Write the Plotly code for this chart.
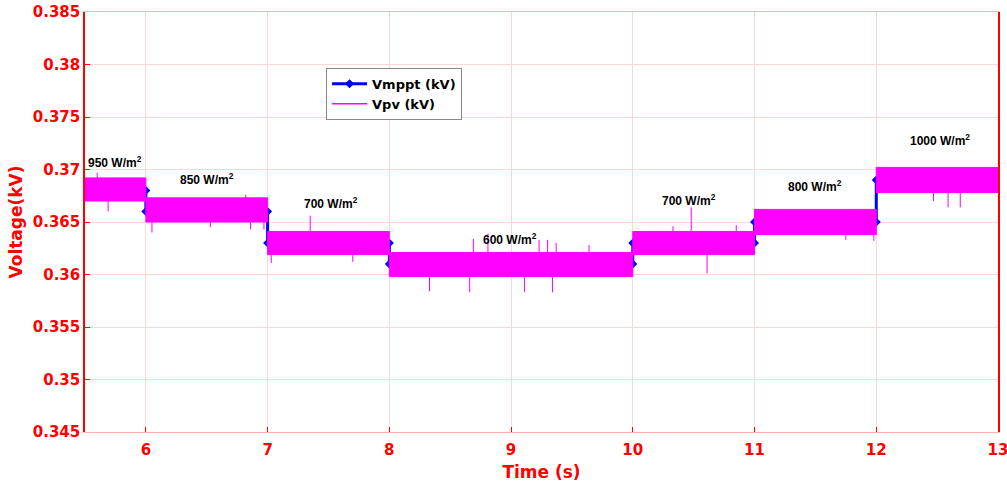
import plotly.graph_objects as go

# ---- data ----
seg_start = [5.5, 6, 7, 8, 10, 11, 12]
seg_end = [6, 7, 8, 10, 11, 12, 13]
vmppt = [0.368, 0.366, 0.363, 0.361, 0.363, 0.365, 0.369]
vpv_upper = [0.3692, 0.3673, 0.3641, 0.3621, 0.3641, 0.3662, 0.3702]
vpv_lower = [0.3670, 0.3650, 0.3619, 0.3598, 0.3619, 0.3638, 0.3678]

spike_t = [5.60, 5.69, 6.05, 6.53, 6.82, 6.86, 6.97, 7.03, 7.35, 7.70,
           8.33, 8.66, 8.69, 8.81, 9.11, 9.23, 9.30, 9.34, 9.37, 9.64,
           10.33, 10.48, 10.61, 10.85, 11.75, 11.98, 12.47, 12.59, 12.69]
spike_v = [0.3697, 0.3660, 0.3640, 0.3645, 0.3676, 0.3643, 0.3643, 0.3611, 0.3656, 0.3612,
           0.3584, 0.3583, 0.3634, 0.3639, 0.3583, 0.3633, 0.3633, 0.3583, 0.3630, 0.3628,
           0.3646, 0.3664, 0.3601, 0.3647, 0.3633, 0.3632, 0.3670, 0.3664, 0.3664]

labels = ["950 W/m<sup>2</sup>", "850 W/m<sup>2</sup>", "700 W/m<sup>2</sup>", "600 W/m<sup>2</sup>",
          "700 W/m<sup>2</sup>", "800 W/m<sup>2</sup>", "1000 W/m<sup>2</sup>"]
label_t = [5.75, 6.5, 7.52, 8.99, 10.46, 11.5, 12.52]
label_v = [0.3707, 0.3691, 0.3668, 0.3634, 0.3671, 0.3684, 0.3728]

x_ticks = [6, 7, 8, 9, 10, 11, 12, 13]
y_ticks = [0.345, 0.35, 0.355, 0.36, 0.365, 0.37, 0.375, 0.38, 0.385]
y_tick_text = ["0.345", "0.35", "0.355", "0.36", "0.365", "0.37", "0.375", "0.38", "0.385"]

RED = "#FF0000"
PINK = "#FFD6D6"
MAG = "#FF00FF"
BLUE = "#0000FF"
BOLD = "DejaVu Sans"

fig = go.Figure()

# Vmppt step line
mx, my = [], []
for s, e, v in zip(seg_start, seg_end, vmppt):
    mx += [s, e]
    my += [v, v]
fig.add_trace(go.Scatter(
    x=mx, y=my, mode="lines+markers", name="Vmppt (kV)",
    line=dict(color=BLUE, width=3),
    marker=dict(symbol="diamond", size=7, color=BLUE),
))

# Vpv band (noisy signal envelope)
for s, e, up, lo in zip(seg_start, seg_end, vpv_upper, vpv_lower):
    fig.add_trace(go.Scatter(
        x=[s, e, e, s, s], y=[up, up, lo, lo, up], mode="lines",
        fill="toself", fillcolor=MAG, line=dict(color=MAG, width=1),
        showlegend=False, hoverinfo="skip",
    ))

# Vpv spikes
sx, sy = [], []
for t, v in zip(spike_t, spike_v):
    seg = [k for k in range(len(seg_start)) if seg_start[k] <= t < seg_end[k]][0]
    sx += [t, t, None]
    sy += [vmppt[seg], v, None]
fig.add_trace(go.Scatter(x=sx, y=sy, mode="lines", line=dict(color=MAG, width=1),
                         showlegend=False, hoverinfo="skip"))

# Legend entry for Vpv
fig.add_trace(go.Scatter(x=[None], y=[None], mode="lines", name="Vpv (kV)",
                         line=dict(color=MAG, width=1.5)))

for txt, t, v in zip(labels, label_t, label_v):
    fig.add_annotation(x=t, y=v, text=txt, showarrow=False,
                       font=dict(family="Liberation Sans, Arial", size=12, color="black", weight="bold"))

fig.update_layout(
    width=1007, height=482,
    margin=dict(l=85, r=9, t=12, b=50),
    plot_bgcolor="white", paper_bgcolor="white",
    font=dict(family=BOLD, color=RED),
    legend=dict(x=0.264, y=0.867, xanchor="left", yanchor="top",
                bgcolor="white", bordercolor="#888888", borderwidth=1,
                font=dict(family=BOLD, size=13, color="black", weight="bold"),
                tracegroupgap=0, itemwidth=35),
    showlegend=True,
)
fig.update_xaxes(
    range=[5.5, 13], tickvals=x_ticks, ticks="inside", ticklen=5, tickcolor=RED,
    showgrid=True, gridcolor=PINK, gridwidth=1,
    showline=True, linecolor="#FFB0B0", linewidth=1, mirror=True,
    zeroline=False, automargin=False, ticklabelstandoff=4, ticklabeloverflow="allow",
    tickfont=dict(family=BOLD, size=15, color=RED, weight="bold"),
    title=dict(text="Time (s)", font=dict(family=BOLD, size=17, color=RED, weight="bold"), standoff=10),
)
fig.update_yaxes(
    range=[0.345, 0.385], tickvals=y_ticks, ticktext=y_tick_text,
    ticks="inside", ticklen=5, tickcolor=RED,
    showgrid=True, gridcolor=PINK, gridwidth=1,
    showline=True, linecolor=RED, linewidth=1.5, mirror=True,
    zeroline=False, automargin=False, ticklabeloverflow="allow",
    tickfont=dict(family=BOLD, size=15, color=RED, weight="bold"),
    title=dict(text="Voltage(kV)", font=dict(family=BOLD, size=17, color=RED, weight="bold"), standoff=6),
)

fig.write_html("out.html")
